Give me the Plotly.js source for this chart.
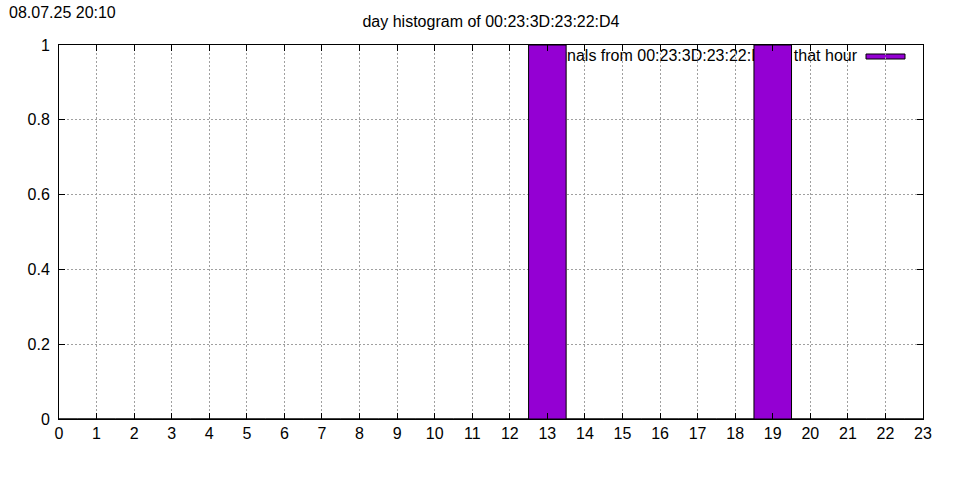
<!DOCTYPE html>
<html>
<head>
<meta charset="utf-8">
<script src="https://cdn.plot.ly/plotly-3.0.1.min.js"></script>
<style>html,body{margin:0;padding:0;background:#fff;}#chart{width:960px;height:480px;}</style>
</head>
<body>
<div id="chart"></div>
<script>
const hours = [0,1,2,3,4,5,6,7,8,9,10,11,12,13,14,15,16,17,18,19,20,21,22,23];
const counts = [0,0,0,0,0,0,0,0,0,0,0,0,0,1,0,0,0,0,0,1,0,0,0,0];
const titleText = 'day histogram of 00:23:3D:23:22:D4';
const stampText = '08.07.25 20:10';
const seriesName = 'signals from 00:23:3D:23:22:D4 at that hour';
const barColor = '#9400d3';

const font = {family: '"Liberation Sans", Arial, sans-serif', size: 16, color: '#000'};
const L = 59, R = 923, T = 45, B = 419;
const W = R - L, H = B - T;
const px = x => (x - L) / W;
const py = y => (B - y) / H;

const trace = {
  type: 'bar',
  x: hours,
  y: counts,
  width: 1,
  name: seriesName,
  marker: {color: barColor, line: {color: '#000', width: 1}},
  showlegend: false,
  hoverinfo: 'skip'
};

const axisCommon = {
  showline: true, linecolor: '#000', linewidth: 1, mirror: 'ticks',
  ticks: 'inside', ticklen: 6, tickcolor: '#000', tickwidth: 1,
  showgrid: true, gridcolor: '#a0a0a0', griddash: '2px,2px', gridwidth: 1,
  zeroline: false, tickfont: font
};

const layout = {
  width: 960, height: 480,
  margin: {l: L, r: 960 - R, t: T, b: 480 - B},
  paper_bgcolor: '#fff', plot_bgcolor: '#fff',
  font: font,
  title: {text: titleText, font: font, x: 0.5, xref: 'paper', xanchor: 'center', y: 1 - 21/480, yanchor: 'middle'},
  xaxis: Object.assign({}, axisCommon, {range: [0, 23], tickmode: 'linear', tick0: 0, dtick: 1}),
  yaxis: Object.assign({}, axisCommon, {range: [0, 1], tickmode: 'linear', tick0: 0, dtick: 0.2, ticklabelstandoff: 5}),
  bargap: 0,
  annotations: [
    {text: stampText, xref: 'paper', yref: 'paper', x: px(7), y: py(12), xanchor: 'left', yanchor: 'middle', showarrow: false, font: font}
  ],
  shapes: [
    {type: 'rect', xref: 'paper', yref: 'paper', layer: 'between', x0: px(440), x1: px(915), y0: py(65), y1: 1,
     fillcolor: '#fff', line: {width: 0}},
    {type: 'rect', xref: 'paper', yref: 'paper', layer: 'between', x0: px(440), x1: px(863), y0: py(61), y1: 1,
     fillcolor: 'rgba(0,0,0,0)', line: {width: 0},
     label: {text: seriesName, textposition: 'middle right', padding: 3, font: font}},
    {type: 'rect', xref: 'paper', yref: 'paper', layer: 'between', x0: px(866), x1: px(905), y0: py(59), y1: py(54),
     fillcolor: barColor, line: {color: '#000', width: 1}}
  ]
};

Plotly.newPlot('chart', [trace], layout, {staticPlot: true, displayModeBar: false});
</script>
</body>
</html>
